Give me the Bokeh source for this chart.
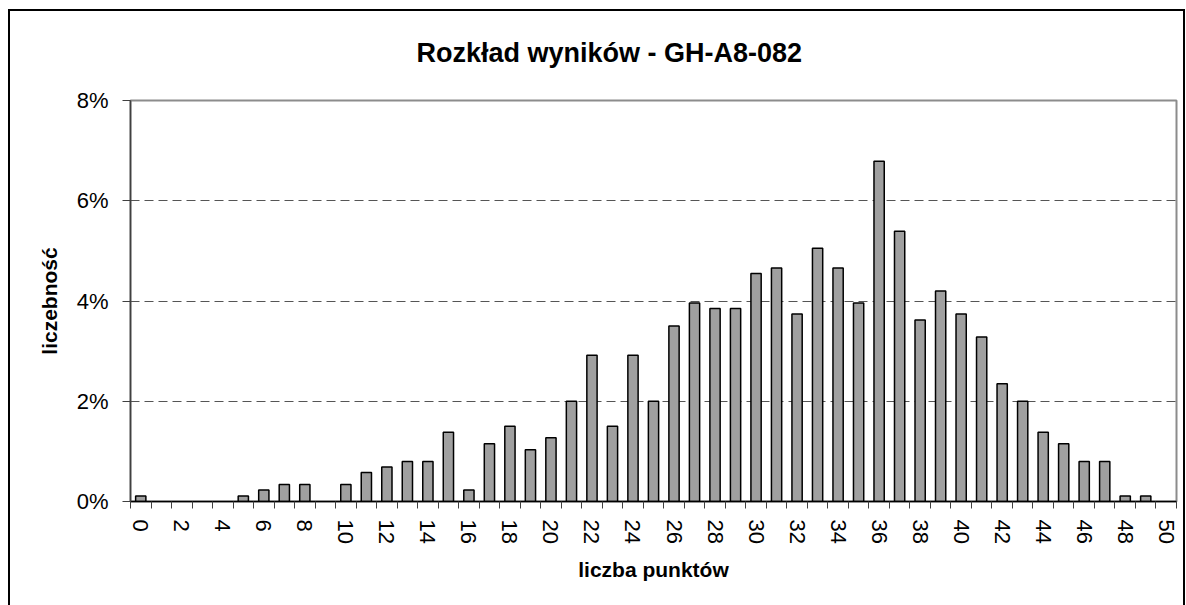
from bokeh.plotting import figure
from bokeh.models import Range1d, FixedTicker, PrintfTickFormatter, ColumnDataSource
from bokeh.embed import file_html
from bokeh.resources import INLINE

title_text = "Rozkład wyników - GH-A8-082"
x_label = "liczba punktów"
y_label = "liczebność"

scores = list(range(51))
percent = [0.11, 0, 0, 0, 0, 0.11, 0.23, 0.34, 0.34, 0,
           0.34, 0.58, 0.69, 0.80, 0.80, 1.38, 0.23, 1.15, 1.50, 1.03,
           1.27, 2.00, 2.92, 1.50, 2.92, 2.00, 3.50, 3.96, 3.85, 3.85,
           4.55, 4.66, 3.74, 5.05, 4.66, 3.96, 6.79, 5.39, 3.62, 4.20,
           3.74, 3.28, 2.35, 2.00, 1.38, 1.15, 0.80, 0.80, 0.11, 0.11,
           0]
y_ticks = [0, 2, 4, 6, 8]
grid_ticks = [2, 4, 6]
x_label_ticks = list(range(0, 51, 2))

FONT = "Liberation Sans"

nz = [(s, v) for s, v in zip(scores, percent) if v > 0]
src = ColumnDataSource(dict(x=[s for s, _ in nz], y=[v for _, v in nz]))

p = figure(width=1186, height=605, output_backend="svg", toolbar_location=None,
           x_range=Range1d(-0.5, 50.5), y_range=Range1d(0, 8),
           min_border_left=130, min_border_right=10, min_border_top=100,
           min_border_bottom=104, background_fill_color="white",
           border_fill_color="white")

p.stylesheets = [":host::after { content: ''; position: absolute; left: 8px; top: 9px; "
                 "right: 1px; bottom: -20px; border: 2px solid black; "
                 "pointer-events: none; z-index: 10; }"]

p.title.text = title_text
p.title.text_font = FONT
p.title.text_font_size = "27px"
p.title.text_font_style = "bold"
p.title.align = "left"
p.title.offset = 286
p.title.standoff = 66
p.title.text_color = "black"

p.outline_line_color = "#8c8c8c"
p.outline_line_width = 2

p.vbar(x="x", top="y", width=0.5, source=src, fill_color="#a0a0a0",
       line_color="black", line_width=1.5)

# grid
p.xgrid.visible = False
p.ygrid.ticker = FixedTicker(ticks=grid_ticks)
p.ygrid.grid_line_color = "#555555"
p.ygrid.grid_line_dash = "9 5"
p.ygrid.grid_line_width = 1

# y axis
ya = p.yaxis[0]
ya.ticker = FixedTicker(ticks=y_ticks)
ya.formatter = PrintfTickFormatter(format="%d%%")
ya.axis_line_color = "#404040"
ya.axis_line_width = 1.5
ya.major_tick_line_color = "#404040"
ya.major_tick_out = 8
ya.major_tick_in = 0
ya.minor_tick_line_color = None
ya.major_label_standoff = 14
ya.major_label_text_font = FONT
ya.major_label_text_font_size = "22px"
ya.major_label_text_color = "black"
ya.axis_label = y_label
ya.axis_label_text_font = FONT
ya.axis_label_text_font_size = "21px"
ya.axis_label_text_font_style = "bold"
ya.axis_label_text_color = "black"
ya.axis_label_standoff = 13

# x axis
xa = p.xaxis[0]
xa.ticker = FixedTicker(ticks=x_label_ticks,
                        minor_ticks=[s - 0.5 for s in scores] + [scores[-1] + 0.5])
xa.axis_line_color = "black"
xa.axis_line_width = 1.5
xa.major_tick_line_color = None
xa.major_tick_out = 0
xa.major_tick_in = 0
xa.minor_tick_line_color = "#404040"
xa.minor_tick_out = 7
xa.minor_tick_in = 0
xa.major_label_orientation = "vertical"
xa.major_label_standoff = 11
xa.major_label_text_font = FONT
xa.major_label_text_font_size = "22px"
xa.major_label_text_color = "black"
xa.axis_label = x_label
xa.axis_label_text_font = FONT
xa.axis_label_text_font_size = "21px"
xa.axis_label_text_font_style = "bold"
xa.axis_label_text_color = "black"
xa.axis_label_standoff = 11

open("out.html", "w").write(file_html(p, INLINE))
